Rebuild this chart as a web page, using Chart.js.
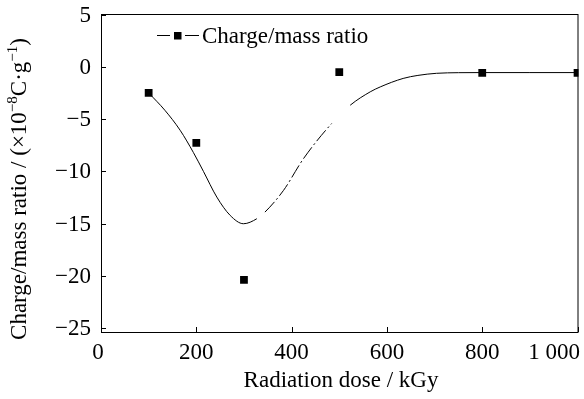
<!DOCTYPE html>
<html>
<head>
<meta charset="utf-8">
<script src="https://cdn.jsdelivr.net/npm/chart.js@4/dist/chart.umd.min.js"></script>
<style>
  html, body { margin: 0; padding: 0; background: #fff; }
  canvas { display: block; }
</style>
</head>
<body>
<canvas id="chart" width="584" height="399"></canvas>
<script>
// measured points
const doseX = [100, 200, 300, 500, 800, 1000];
const chargeRatio = [-2.49, -7.28, -20.36, -0.51, -0.57, -0.57];

// fitted curve
const fitDose = [100, 134, 166, 194, 215, 243, 271, 299, 327, 344, 383, 425, 484, 523, 565, 586, 634, 665, 704, 750, 795, 900, 1000];
const fitRatio = [-2.49, -4.15, -6.06, -8.2, -10.0, -12.45, -14.2, -15.0, -14.52, -13.89, -11.81, -8.77, -5.42, -3.67, -2.39, -1.92, -1.11, -0.82, -0.62, -0.56, -0.55, -0.55, -0.55];

const xTicks = [0, 200, 400, 600, 800, 1000];
const xTickLabels = ['0', '200', '400', '600', '800', '1 000'];
const yTicks = [5, 0, -5, -10, -15, -20, -25];

const FONT = '"Liberation Serif", "Times New Roman", serif';

const frame = {
  id: 'frame',
  afterDraw(chart) {
    const { ctx, chartArea: a, scales: { x, y } } = chart;
    ctx.save();
    ctx.strokeStyle = '#000';
    ctx.lineWidth = 1;
    ctx.strokeRect(a.left + 0.5, a.top + 0.5, a.right - a.left - 1, a.bottom - a.top);

    // inward ticks
    ctx.beginPath();
    x.ticks.forEach(t => {
      const px = Math.round(x.getPixelForValue(t.value)) + 0.5;
      ctx.moveTo(px, a.bottom); ctx.lineTo(px, a.bottom - 5);
    });
    y.ticks.forEach(t => {
      const py = Math.round(y.getPixelForValue(t.value)) + 0.5;
      ctx.moveTo(a.left, py); ctx.lineTo(a.left + 5, py);
    });
    ctx.stroke();

    ctx.fillStyle = '#000';
    ctx.font = '23px ' + FONT;

    // y tick labels
    ctx.textAlign = 'right';
    ctx.textBaseline = 'middle';
    yTicks.forEach(v => {
      const label = v < 0 ? '\u2212' + Math.abs(v) : String(v);
      ctx.fillText(label, a.left - 10, y.getPixelForValue(v) + 1);
    });

    // x tick labels, last one kept inside the canvas
    ctx.textAlign = 'left';
    ctx.textBaseline = 'top';
    xTicks.forEach((v, i) => {
      const label = xTickLabels[i];
      const w = ctx.measureText(label).width;
      let px = x.getPixelForValue(v) - w / 2;
      if (i === 0) px -= 3;
      if (px + w > chart.width - 4) px = chart.width - 4 - w;
      ctx.fillText(label, px, a.bottom + 9);
    });

    // x title
    ctx.textAlign = 'center';
    ctx.textBaseline = 'alphabetic';
    ctx.fillText('Radiation dose / kGy', 341, 387);

    // y title with superscripts
    ctx.translate(26, 189);
    ctx.rotate(-Math.PI / 2);
    const parts = [
      ['Charge/mass ratio / (\u00d710', 23, 0],
      ['\u22128', 15, -9],
      ['C\u00b7g', 23, 0],
      ['\u22121', 15, -9],
      [')', 23, 0]
    ];
    let total = 0;
    parts.forEach(p => { ctx.font = p[1] + 'px ' + FONT; total += ctx.measureText(p[0]).width; });
    let cx = -total / 2;
    ctx.textAlign = 'left';
    parts.forEach(p => {
      ctx.font = p[1] + 'px ' + FONT;
      ctx.fillText(p[0], cx, p[2]);
      cx += ctx.measureText(p[0]).width;
    });
    ctx.restore();

    // legend
    ctx.save();
    ctx.strokeStyle = '#000';
    ctx.lineWidth = 1;
    ctx.beginPath();
    ctx.moveTo(157, 35.5); ctx.lineTo(170, 35.5);
    ctx.moveTo(185, 35.5); ctx.lineTo(199, 35.5);
    ctx.stroke();
    ctx.fillStyle = '#000';
    ctx.fillRect(174, 32, 7.5, 7.5);
    ctx.font = '23px ' + FONT;
    ctx.textBaseline = 'alphabetic';
    ctx.fillText('Charge/mass ratio', 202, 43);
    ctx.restore();
  }
};

new Chart(document.getElementById('chart'), {
  type: 'scatter',
  data: {
    datasets: [
      {
        label: 'fit',
        data: fitDose.map((d, i) => ({ x: d, y: fitRatio[i] })),
        showLine: true,
        pointRadius: 0,
        borderColor: '#000',
        borderWidth: 1,
        cubicInterpolationMode: 'monotone',
        segment: {
          borderColor: c => {
            const x0 = c.p0.parsed.x;
            return (x0 === 327 || x0 === 484) ? 'rgba(0,0,0,0)' : undefined;
          },
          borderDash: c => (c.p0.parsed.x >= 344 && c.p1.parsed.x <= 484) ? [14, 3, 2, 3] : undefined
        }
      },
      {
        label: 'Charge/mass ratio',
        data: doseX.map((d, i) => ({ x: d, y: chargeRatio[i] })),
        pointStyle: 'rect',
        pointRadius: 5.5,
        backgroundColor: '#000',
        borderColor: '#000',
        borderWidth: 0
      }
    ]
  },
  options: {
    responsive: false,
    animation: false,
    layout: { padding: { top: 14, right: 5.5, left: 0, bottom: 0 } },
    plugins: { legend: { display: false }, tooltip: { enabled: false } },
    scales: {
      x: {
        type: 'linear',
        min: 0,
        max: 1002,
        afterBuildTicks: s => { s.ticks = xTicks.map(v => ({ value: v })); },
        afterFit: s => { s.height = 67; },
        grid: { display: false, drawTicks: false },
        border: { display: false },
        ticks: { display: false }
      },
      y: {
        min: -25.35,
        max: 5.05,
        afterBuildTicks: s => { s.ticks = yTicks.map(v => ({ value: v })); },
        afterFit: s => { s.width = 101; },
        grid: { display: false, drawTicks: false },
        border: { display: false },
        ticks: { display: false }
      }
    }
  },
  plugins: [frame]
});
</script>
</body>
</html>
